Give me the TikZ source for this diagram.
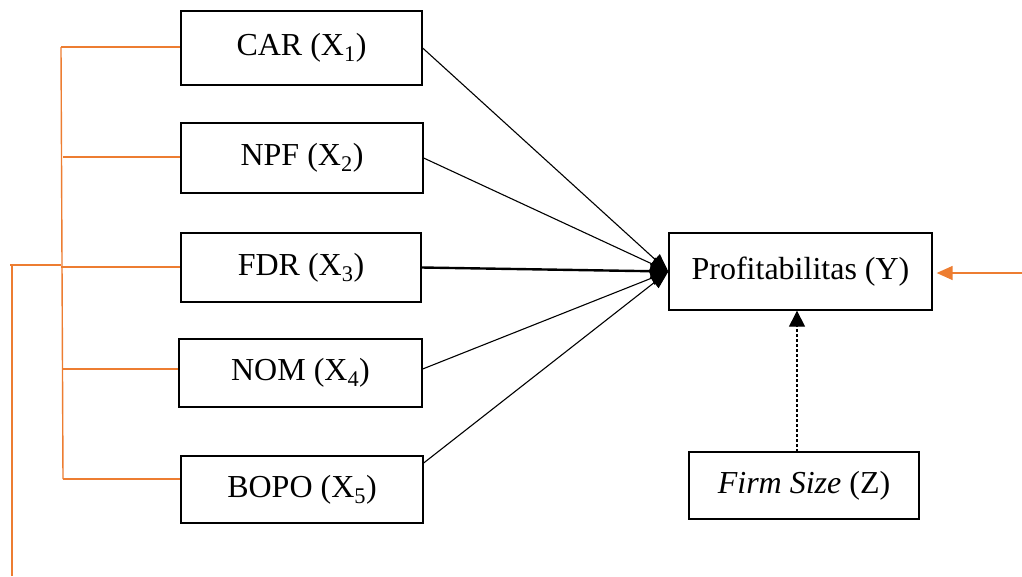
\documentclass[tikz,border=0pt]{standalone}
\usepackage{fontspec}
\setmainfont{Liberation Serif}
\usetikzlibrary{arrows.meta}
\definecolor{accent}{RGB}{237,125,49}
\begin{document}
\begin{tikzpicture}[x=1pt,y=-1pt,
  varbox/.style={draw, line width=1.3pt, rectangle, inner sep=0pt,
    font=\fontsize{32}{38}\selectfont},
  link/.style={line width=1.1pt, -{Triangle[length=18pt,width=14pt]}},
  bracket/.style={draw=accent, line width=1.4pt},
]
\useasboundingbox (0,0) rectangle (1022,576);

% independent variables
\node[varbox, minimum width=241pt, minimum height=74pt] (car)  at (301.5,48)  {CAR (X\textsubscript{1})};
\node[varbox, minimum width=242pt, minimum height=70pt] (npf)  at (302,158)   {NPF (X\textsubscript{2})};
\node[varbox, minimum width=240pt, minimum height=69pt] (fdr)  at (301,267.5) {FDR (X\textsubscript{3})};
\node[varbox, minimum width=243pt, minimum height=68pt] (nom)  at (300.5,373) {NOM (X\textsubscript{4})};
\node[varbox, minimum width=242pt, minimum height=67pt] (bopo) at (302,489.5) {BOPO (X\textsubscript{5})};

% dependent and moderating variables
\node[varbox, minimum width=263pt, minimum height=77pt] (prof) at (800.5,271.5) {Profitabilitas (Y)};
\node[varbox, minimum width=230pt, minimum height=67pt] (firm) at (804,485.5) {\textit{Firm Size} (Z)};

% paths into profitability
\draw[link] (car.east) -- (prof.west);
\draw[link] (npf.east) -- (prof.west);
\draw[link, line width=2.4pt] (fdr.east) -- (prof.west);
\draw[link] ([yshift=4pt]nom.east) -- (prof.west);
\draw[link] ([yshift=26.5pt]bopo.east) -- (prof.west);

% moderator
\coordinate (dz) at (797,452);
\draw[line width=1.1pt, dash pattern=on 3pt off 2pt,
  -{Triangle[length=16pt,width=16pt]}] (dz) -- (dz |- prof.south);

% incoming orange arrow on the right
\coordinate (oR) at (1022,273);
\draw[draw=accent, line width=1.4pt, shorten >=4pt,
  -{Triangle[length=16pt,width=14pt,fill=accent]}] (oR) -- (oR -| prof.east);

% left bracket grouping X1..X5
\coordinate (bt) at (61,47);
\coordinate (b2) at (63,157);
\coordinate (b3) at (61,267);
\coordinate (b4) at (62,369);
\coordinate (b5) at (63,479);
\coordinate (ot) at (10,265);
\coordinate (ob) at (12,576);
\draw[bracket] (bt) -- (b5);
\draw[bracket] (bt) -- (bt -| car.west);
\draw[bracket] (b2) -- (b2 -| npf.west);
\draw[bracket] (b3) -- (b3 -| fdr.west);
\draw[bracket] (b4) -- (b4 -| nom.west);
\draw[bracket] (b5) -- (b5 -| bopo.west);
\draw[bracket] (ot) -- (ot -| bt);
\draw[bracket] (ob) -- (ob |- ot);
\end{tikzpicture}
\end{document}
